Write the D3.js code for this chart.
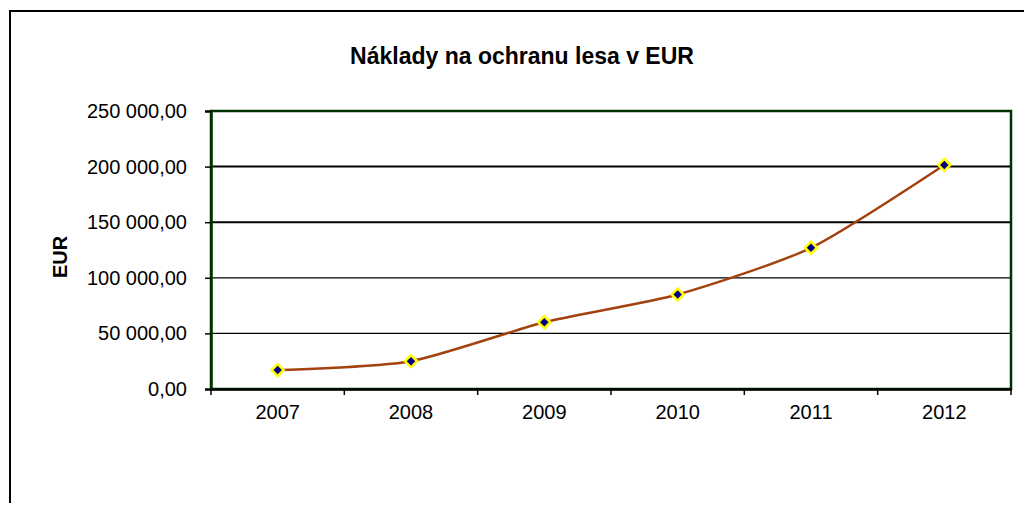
<!DOCTYPE html>
<html>
<head>
<meta charset="utf-8">
<script src="https://cdn.jsdelivr.net/npm/d3@7"></script>
<style>
    html, body { margin: 0; padding: 0; background: #fff; }
    svg { display: block; font-family: "Liberation Sans", Arial, sans-serif; }
</style>
</head>
<body>
<svg id="chart" width="1024" height="505"></svg>
<script>
// Chart data
const years = ['2007', '2008', '2009', '2010', '2011', '2012'];
const costs = [17000, 25000, 60000, 85000, 127000, 201500];
const yTicks = [0, 50000, 100000, 150000, 200000, 250000];
const chartTitle = 'Náklady na ochranu lesa v EUR';
const yTitle = 'EUR';

const svg = d3.select('#chart');

// Plot area bounds
const plotLeft = 211, plotRight = 1011, plotTop = 111, plotBottom = 389;

const x = d3.scaleBand().domain(years).range([plotLeft, plotRight]);
const y = d3.scaleLinear().domain([0, 250000]).range([plotBottom, plotTop]);

// Format like "150 000,00"
const fmt = (v) => d3.format(',.2f')(v).replace(/,/g, ' ').replace('.', ',');

// Outer frame (only top and left edges visible)
svg.append('path')
    .attr('d', 'M10,503 V11 H1024')
    .attr('fill', 'none')
    .attr('stroke', '#000')
    .attr('stroke-width', 2);

// Title
svg.append('text')
    .attr('x', 522)
    .attr('y', 64)
    .attr('text-anchor', 'middle')
    .attr('font-size', 23)
    .attr('font-weight', 'bold')
    .text(chartTitle);

// Y axis title
svg.append('text')
    .attr('transform', 'translate(67,257) rotate(-90)')
    .attr('text-anchor', 'middle')
    .attr('font-size', 20)
    .attr('font-weight', 'bold')
    .text(yTitle);

// Gridlines
svg.append('g')
    .selectAll('line')
    .data(yTicks.slice(1, -1))
    .enter().append('line')
    .attr('x1', plotLeft).attr('x2', plotRight)
    .attr('y1', (d) => y(d)).attr('y2', (d) => y(d))
    .attr('stroke', '#000')
    .attr('stroke-width', (d) => (d >= 150000 ? 2 : 1.2));

// Plot border
svg.append('rect')
    .attr('x', plotLeft).attr('y', plotTop)
    .attr('width', plotRight - plotLeft).attr('height', plotBottom - plotTop)
    .attr('fill', 'none')
    .attr('stroke', '#003300')
    .attr('stroke-width', 2.5);

// Y axis
const yAxis = svg.append('g')
    .attr('transform', `translate(${plotLeft},0)`)
    .call(d3.axisLeft(y).tickValues(yTicks).tickFormat(fmt).tickSize(6).tickPadding(18));
yAxis.select('.domain').attr('stroke', '#003300').attr('stroke-width', 2.5);
yAxis.selectAll('.tick line').attr('stroke', '#000').attr('stroke-width', 1.5);
yAxis.selectAll('.tick text').attr('font-size', 20).attr('fill', '#000').attr('font-family', '"Liberation Sans", Arial, sans-serif');

// X axis
const xAxis = svg.append('g')
    .attr('transform', `translate(0,${plotBottom})`)
    .call(d3.axisBottom(x).tickSize(0).tickPadding(16));
xAxis.select('.domain').attr('stroke', '#000').attr('stroke-width', 2.5);
xAxis.selectAll('.tick text').attr('font-size', 20).attr('fill', '#000').attr('font-family', '"Liberation Sans", Arial, sans-serif');

// Category boundary ticks
const bounds = years.map((d) => x(d)).concat([plotRight]);
svg.append('g')
    .selectAll('line')
    .data(bounds)
    .enter().append('line')
    .attr('x1', (d) => d).attr('x2', (d) => d)
    .attr('y1', plotBottom).attr('y2', plotBottom + 6)
    .attr('stroke', '#000')
    .attr('stroke-width', 1.5);

// Smoothed line
const line = d3.line()
    .x((d, i) => x(years[i]) + x.bandwidth() / 2)
    .y((d) => y(d))
    .curve(d3.curveCardinal.tension(0.35));

svg.append('path')
    .datum(costs)
    .attr('d', line)
    .attr('fill', 'none')
    .attr('stroke', '#a3420f')
    .attr('stroke-width', 2.5);

// Markers: navy diamond inside a yellow diamond
const markers = svg.append('g')
    .selectAll('g')
    .data(costs)
    .enter().append('g')
    .attr('transform', (d, i) => `translate(${x(years[i]) + x.bandwidth() / 2},${y(d)}) rotate(45)`);

markers.append('path')
    .attr('d', d3.symbol().type(d3.symbolSquare).size(100))
    .attr('fill', '#ffff00')
    .attr('stroke', '#ffff00')
    .attr('stroke-width', 1)
    .attr('stroke-linejoin', 'round');

markers.append('path')
    .attr('d', d3.symbol().type(d3.symbolSquare).size(36))
    .attr('fill', '#000080');
</script>
</body>
</html>
